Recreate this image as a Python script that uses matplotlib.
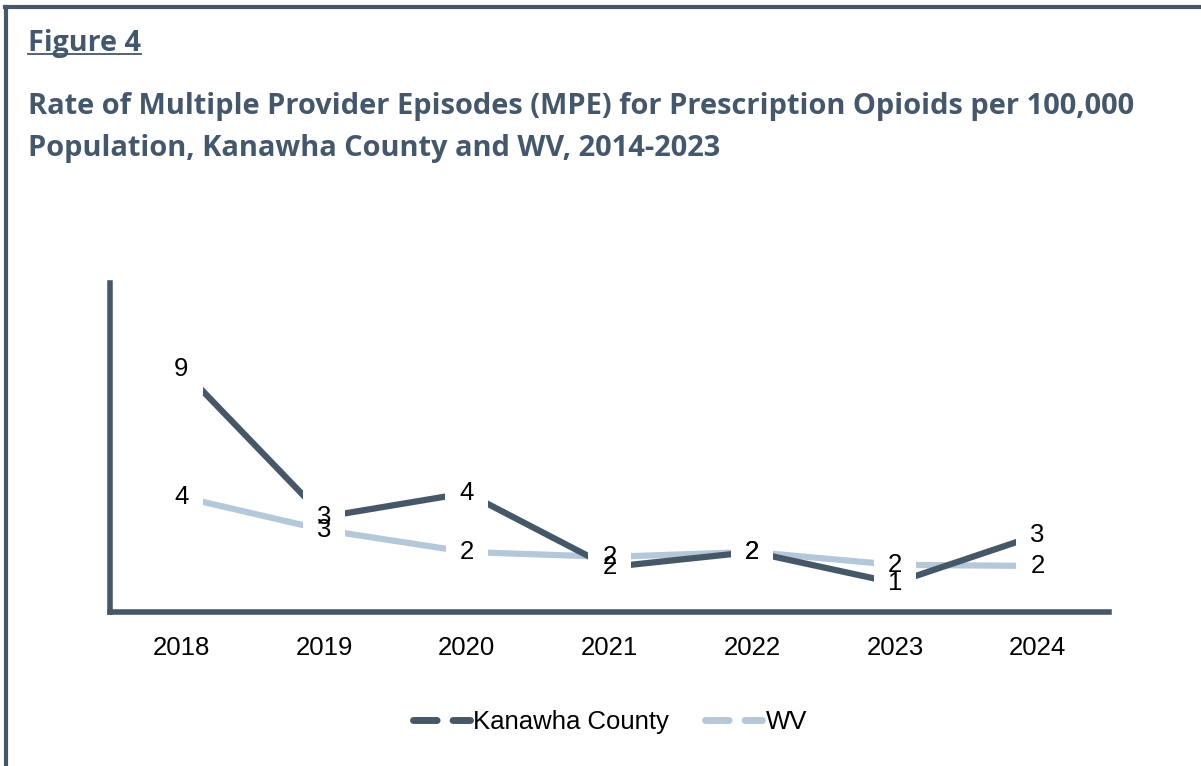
import matplotlib
matplotlib.use("Agg")
import matplotlib.pyplot as plt
from matplotlib.lines import Line2D

years = ["2018", "2019", "2020", "2021", "2022", "2023", "2024"]
kanawha = [8.87, 3.47, 4.34, 1.64, 2.19, 1.06, 2.81]
wv = [4.20, 2.99, 2.19, 2.01, 2.19, 1.72, 1.68]

dark = "#465868"
light = "#b5c8da"
title_col = "#44576b"
fs = 18.5

fig = plt.figure(figsize=(12.01, 7.66), dpi=100)
ax = fig.add_axes([110 / 1201, 1 - 612 / 766, 999 / 1201, 329 / 766])

x = list(range(len(years)))
ax.plot(x, kanawha, color=dark, lw=4.5, solid_capstyle="butt", zorder=2)
ax.plot(x, wv, color=light, lw=4.5, solid_capstyle="butt", zorder=1)

# white patches behind labels first, then the text, so labels don't hide each other
for series in (kanawha, wv):
    for i, v in enumerate(series):
        ax.text(i, v, str(int(round(v))), ha="center", va="center", fontsize=fs,
                family="Liberation Sans", color=(0, 0, 0, 0), zorder=3,
                bbox=dict(boxstyle="square,pad=0.55", fc="white", ec="none"))
for series in (kanawha, wv):
    for i, v in enumerate(series):
        ax.text(i, v, str(int(round(v))), ha="center", va="center", fontsize=fs,
                family="Liberation Sans", color="black", zorder=4)

ax.set_xlim(-0.5, len(years) - 0.5)
ax.set_ylim(0, 12)
ax.set_xticks(x)
ax.set_xticklabels(years, fontsize=fs, family="Liberation Sans")
ax.set_yticks([])
ax.tick_params(axis="x", length=0, pad=17)
for s in ("top", "right"):
    ax.spines[s].set_visible(False)
for s in ("left", "bottom"):
    ax.spines[s].set_color(dark)
    ax.spines[s].set_linewidth(4)

handles = [Line2D([], [], color=dark, lw=5, linestyle=(0, (3.4, 2.3)), dash_capstyle="round"),
           Line2D([], [], color=light, lw=5, linestyle=(0, (3.4, 2.3)), dash_capstyle="round")]
fig.legend(handles, ["Kanawha County", "WV"], loc="center", bbox_to_anchor=(0.508, 1 - 722 / 766),
           ncol=2, frameon=False, prop={"family": "Liberation Sans", "size": fs},
           handlelength=2.2, handletextpad=0.15, columnspacing=1.4)

# frame border
fig.add_artist(Line2D([5 / 1201, 1], [1 - 7 / 766, 1 - 7 / 766], color=dark, lw=3, transform=fig.transFigure))
fig.add_artist(Line2D([6 / 1201, 6 / 1201], [0, 1 - 7 / 766], color=dark, lw=3, transform=fig.transFigure))

t = fig.text(28 / 1201, 1 - 51 / 766, "Figure 4", fontsize=20.7, fontweight="bold", family="Open Sans",
             color=title_col)
fig.text(28 / 1201, 1 - 114 / 766, "Rate of Multiple Provider Episodes (MPE) for Prescription Opioids per 100,000",
         fontsize=20.9, fontweight="bold", family="Open Sans", color=title_col)
fig.text(28 / 1201, 1 - 156 / 766, "Population, Kanawha County and WV, 2014-2023",
         fontsize=20.9, fontweight="bold", family="Open Sans", color=title_col)

r = fig.canvas.get_renderer()
bb = t.get_window_extent(r).transformed(fig.transFigure.inverted())
fig.add_artist(Line2D([bb.x0, bb.x1], [1 - 54 / 766, 1 - 54 / 766], color=title_col, lw=1.3,
                      transform=fig.transFigure))

fig.savefig("out.png", dpi=100)
